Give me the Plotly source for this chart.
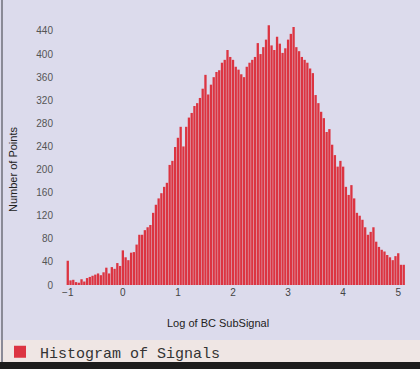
import plotly.graph_objects as go

# Histogram bin centres (log of BC SubSignal), bin width 0.05
bin_start = -1.0
bin_width = 0.05
counts = [
    42, 8, 9, 5, 4, 10, 6, 12, 14, 16,
    18, 20, 17, 22, 30, 20, 31, 28, 38, 33,
    60, 48, 43, 56, 57, 70, 87, 87, 95, 100,
    104, 125, 139, 150, 159, 170, 177, 208, 215, 239,
    255, 274, 240, 274, 290, 298, 310, 315, 324, 340,
    364, 330, 347, 360, 369, 372, 385, 390, 407, 395,
    390, 378, 373, 365, 360, 378, 385, 390, 395, 419,
    400, 412, 425, 450, 415, 407, 430, 418, 402, 410,
    425, 435, 447, 412, 405, 395, 390, 385, 375, 367,
    329, 315, 300, 289, 265, 270, 243, 225, 205, 215,
    205, 170, 156, 173, 150, 125, 120, 113, 100, 87,
    92, 100, 75, 66, 61, 58, 52, 48, 43, 50,
    55, 35, 35,
]
bins = [round(bin_start + bin_width * i, 3) for i in range(len(counts))]

x_ticks = [-1, 0, 1, 2, 3, 4, 5]
y_ticks = list(range(0, 441, 40))

series_name = "Histogram of Signals"
x_title = "Log of BC SubSignal"
y_title = "Number of Points"

fig = go.Figure()
fig.add_trace(go.Bar(
    x=bins, y=counts, name=series_name,
    marker=dict(color="#dc3441", line=dict(width=0)),
    showlegend=True,
))

W, H = 420, 369
ml, mr, mt, mb = 54, 8, 20, 84
pw, ph = W - ml - mr, H - mt - mb

def px(xp):
    return (xp - ml) / pw

def py(yp):
    return (H - mb - yp) / ph

fig.update_layout(
    width=W, height=H,
    margin=dict(l=ml, r=mr, t=mt, b=mb, autoexpand=False),
    paper_bgcolor="#dcdbec",
    plot_bgcolor="#dcdbec",
    bargap=0.16,
    font=dict(family="Liberation Sans, Arial, sans-serif", size=10, color="#555"),
    xaxis=dict(range=[-1.25, 5.25], tickvals=x_ticks, showgrid=False,
               zeroline=False, showline=False, ticks="", automargin=False,
               tickfont=dict(size=10, color="#444")),
    yaxis=dict(range=[0, 459], tickvals=y_ticks, showgrid=False,
               zeroline=False, showline=False, ticks="", automargin=False,
               tickfont=dict(size=10, color="#555")),
    legend=dict(x=px(0), y=py(352), xanchor="left", yanchor="middle",
                orientation="h", bgcolor="rgba(0,0,0,0)",
                font=dict(family="Liberation Mono, monospace", size=15, color="#333"),
                itemwidth=30),
    shapes=[
        dict(type="rect", xref="paper", yref="paper",
             x0=px(0), x1=px(W), y0=py(340), y1=py(362),
             fillcolor="#efe6e4", line=dict(width=0), layer="below"),
        dict(type="rect", xref="paper", yref="paper",
             x0=px(0), x1=px(W), y0=py(362), y1=py(H + 2),
             fillcolor="#1c1c1c", line=dict(width=0), layer="above"),
        dict(type="line", xref="paper", yref="paper",
             x0=px(2), x1=px(2), y0=py(0), y1=py(362),
             line=dict(color="#8a8a96", width=2)),
    ],
    annotations=[
        dict(text=x_title, xref="paper", yref="paper", x=px(218), y=py(323),
             showarrow=False, xanchor="center", yanchor="middle",
             font=dict(size=11, color="#222")),
        dict(text=y_title, xref="paper", yref="paper", x=px(13), y=py(170),
             showarrow=False, xanchor="center", yanchor="middle", textangle=-90,
             font=dict(size=11, color="#222")),
    ],
)

fig.write_html(
    "out.html",
    config={"displayModeBar": False},
    post_script="document.body.style.margin='0';document.body.style.overflow='hidden';",
)
